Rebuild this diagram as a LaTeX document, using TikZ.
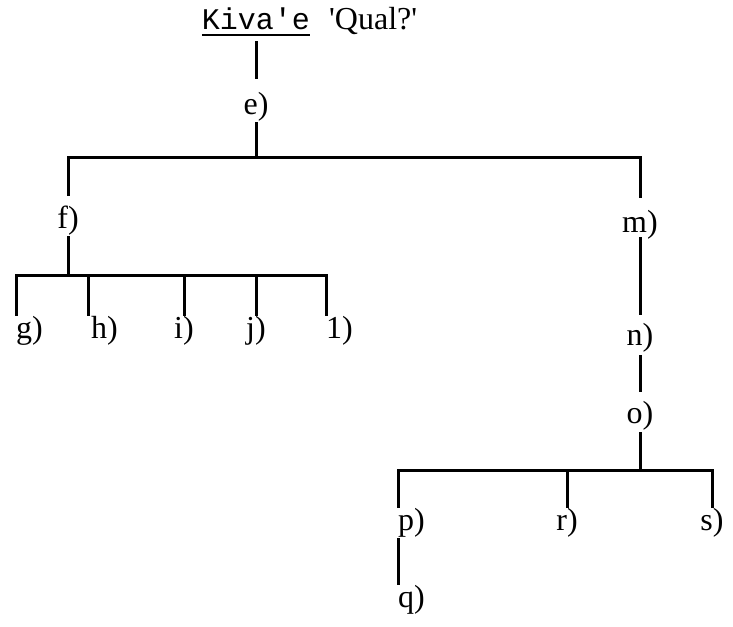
\documentclass[tikz,border=0pt]{standalone}
\usepackage{fontspec}
\setmainfont{Liberation Serif}
\newfontfamily\kivamono{Liberation Mono}
\usepackage{tikz}
\tikzset{lbl/.style={anchor=base,inner sep=0pt,font=\fontsize{32}{38}\selectfont,text height=32pt,text depth=8pt},
  leaf/.style={lbl,text height=22pt},
  twig/.style={line width=3pt}}

\begin{document}
\begin{tikzpicture}[x=1pt,y=-1pt]
  \path[use as bounding box] (0,0) rectangle (733,626);
  \node[anchor=base,inner sep=0pt,text depth=5pt,font=\kivamono\fontsize{30}{36}\selectfont] (kiva) at (256,30) {Kiva\textquotesingle e};
  \draw[line width=2pt] (kiva.south west) -- (kiva.south east);
  \node[lbl,text depth=0pt,anchor=base west] (qual) at (329,30) {\textquotesingle Qual?\textquotesingle};
  \node[lbl,text height=35pt] (e) at (256,114) {e)};
  \node[lbl] (f) at (68,228) {f)};
  \node[lbl,text height=34pt,text depth=5pt] (m) at (640,232) {m)};
  \node[leaf,anchor=base west] (g) at (16,338) {g)};
  \node[leaf,anchor=base west] (h) at (91,338) {h)};
  \node[leaf] (i) at (184,338) {i)};
  \node[leaf] (j) at (256,338) {j)};
  \node[leaf,anchor=base west] (l) at (326,338) {1)};
  \node[lbl,text height=30pt,text depth=10pt] (n) at (640,345) {n)};
  \node[lbl,text height=31pt,text depth=9pt] (o) at (640,423) {o)};
  \node[leaf,anchor=base west] (p) at (398,530) {p)};
  \node[leaf] (r) at (567,530) {r)};
  \node[leaf] (s) at (712,530) {s)};
  \node[leaf,anchor=base west] (q) at (398,607) {q)};
  \coordinate (ebar) at (256,157);
  \coordinate (fbar) at (68,275);
  \coordinate (obar) at (640,470);
  \draw[twig] ([yshift=-6pt]kiva.south) -- (e);
  \draw[twig] (e) -- (ebar);
  \draw[twig] (f.north) |- (ebar) -| (m.north);
  \draw[twig] (f) -- (fbar);
  \draw[twig] (g.north west) |- (fbar) -| (l.north west);
  \foreach \a in {i.north,j.north}{\draw[twig] (\a) -- (\a |- fbar);}
  \draw[twig] ([xshift=-3pt]h.north west) -- ([xshift=-3pt]h.north west |- fbar);
  \draw[twig] (m) -- (n);
  \draw[twig] (n) -- (o);
  \draw[twig] (o) -- (obar);
  \draw[twig] (p.north west) |- (obar) -| (s.north);
  \draw[twig] (r.north) -- (r.north |- obar);
  \draw[twig] (p.south west) -- (q.north west);
\end{tikzpicture}
\end{document}
